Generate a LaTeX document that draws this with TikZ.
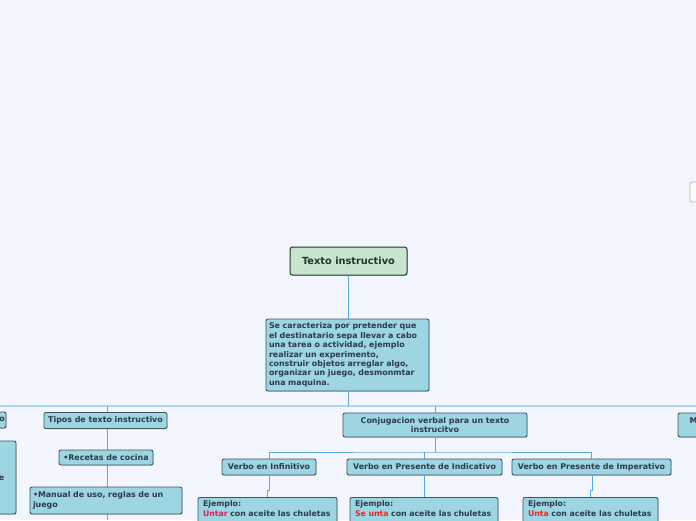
\documentclass[tikz,border=0pt]{standalone}
\usepackage{fontspec}
\setmainfont{DejaVu Sans}
\usetikzlibrary{shadows}
\definecolor{bg}{RGB}{243,246,254}
\definecolor{bluefill}{RGB}{157,213,226}
\definecolor{blueborder}{RGB}{62,84,98}
\definecolor{greenfill}{RGB}{198,229,204}
\definecolor{greenborder}{RGB}{35,55,40}
\definecolor{txt}{RGB}{44,58,74}
\definecolor{link}{RGB}{88,170,228}
\definecolor{mainlink}{RGB}{170,214,245}
\definecolor{redA}{RGB}{232,23,93}
\definecolor{redB}{RGB}{236,38,38}
\tikzset{
  box/.style={draw=blueborder, fill=bluefill, line width=0.9pt, rounded corners=2pt,
    text=txt, inner sep=0pt, font=\bfseries\fontsize{7.9}{9.4}\selectfont,
    drop shadow={shadow xshift=0.6pt, shadow yshift=-0.8pt, opacity=0.35}},
  rootbox/.style={draw=greenborder, fill=greenfill, line width=1pt, rounded corners=2.5pt,
    text=greenborder, inner sep=0pt, font=\bfseries\fontsize{9.8}{11}\selectfont,
    drop shadow={shadow xshift=0.6pt, shadow yshift=-0.8pt, opacity=0.35}},
  exbox/.style={box, anchor=north, align=left, inner xsep=5pt, inner ysep=3.5pt,
    font=\bfseries\fontsize{7.8}{10}\selectfont},
  conn/.style={draw=link, line width=0.8pt},
  mainconn/.style={draw=mainlink, line width=1.8pt},
  lbl/.style={text=txt, inner sep=0pt, font=\bfseries\fontsize{7.9}{9.4}\selectfont},
}
\begin{document}
\begin{tikzpicture}[x=1pt,y=-1pt]
\clip (0,0) rectangle (696,520);
\fill[bg] (0,0) rectangle (696,520);

% coordinates for the main horizontal line
\coordinate (hl) at (0,406);
\coordinate (hr) at (696,406);
\coordinate (hm) at (348,406);
\coordinate (ht) at (107,406);
\coordinate (hc) at (435,406);
\coordinate (bottomL) at (107,520);

% connectors (drawn first, behind nodes)
\draw[mainconn] (hl) -- (hr);

% nodes
\node[rootbox, minimum width=117, minimum height=28] (root) at (348.5,261) {Texto instructivo};
\node[box, minimum width=163, minimum height=72, align=left, text width=157] (desc) at (347.5,355)
  {Se caracteriza por pretender que\\el destinatario sepa llevar a cabo\\una tarea o actividad, ejemplo\\realizar un experimento,\\construir objetos arreglar algo,\\organizar un juego, desmonmtar\\una maquina.};

\draw[conn] (root.south -| 348,0) -- (desc.north -| 348,0);
\draw[conn] (desc.south -| 348,0) -- (hm);

% left subtree trunk
\draw[conn] (ht) -- (bottomL);

\node[box, minimum width=66, minimum height=16] (leftA) at (-27,420) {};
\node[lbl] (leftAt) at (2,419.5) {o};
\node[box, minimum width=116, minimum height=73] (leftB) at (-42,477.5) {};
\node[lbl] (leftBt) at (1.5,478) {e};

\node[box, minimum width=123, minimum height=16] (tipos) at (105.5,420.5) {Tipos de texto instructivo};
\node[box, minimum width=94, minimum height=15] (recetas) at (106,457.5) {•Recetas de cocina};
\node[box, minimum width=152, minimum height=27, align=left, text width=146] (manual) at (106,500.5)
  {•Manual de uso, reglas de un\\juego};

% conjugation subtree
\node[box, minimum width=184, minimum height=24, align=center] (conj) at (435,425)
  {Conjugacion verbal para un texto\\instrucitvo};
\draw[conn] (hc) -- (conj.north);

\node[box, minimum width=94, minimum height=16] (inf) at (269,467) {Verbo en Infinitivo};
\node[box, minimum width=155, minimum height=16] (ind) at (424.5,467) {Verbo en Presente de Indicativo};
\node[box, minimum width=159, minimum height=16] (imp) at (591.5,467) {Verbo en Presente de Imperativo};

\coordinate (bus) at (435,452);
\draw[conn] (conj.south) -- (bus);
\draw[conn] (inf.north) |- (bus) -| (imp.north);
\draw[conn] (ind.north) -- (ind.north |- bus);

\node[exbox, text width=129] (ex1) at (267.5,497)
  {Ejemplo:\\\mbox{\textcolor{redA}{Untar} con aceite las chuletas}\\\mbox{}};
\node[exbox, text width=138] (ex2) at (424,497)
  {Ejemplo:\\\mbox{\textcolor{redB}{Se unta} con aceite las chuletas}\\\mbox{}};
\node[exbox, text width=125] (ex3) at (590.5,497)
  {Ejemplo:\\\mbox{\textcolor{redB}{Unta} con aceite las chuletas}\\\mbox{}};

\coordinate (j1) at (269,490);
\coordinate (j3) at (592,490);
\draw[conn] (inf.south -| j1) -- (j1) -- (j1 -| ex1.north) -- (ex1.north);
\draw[conn] (ind.south) -- (ex2.north -| ind.south);
\draw[conn] (imp.south -| j3) -- (j3) -- (j3 -| ex3.north) -- (ex3.north);

% right partial node
\node[box, minimum width=62, minimum height=24] (rightA) at (709,425) {};
\node[lbl] (rightAt) at (693.5,421) {M};
\draw[conn] (hr -| 709,0) -- (rightA.north);

% top right partial node
\node[draw=gray!60, fill=white!60!bg, rounded corners=2pt, line width=0.8pt,
  minimum width=30, minimum height=20, inner sep=0pt] (topR) at (705,192) {};
\end{tikzpicture}
\end{document}
